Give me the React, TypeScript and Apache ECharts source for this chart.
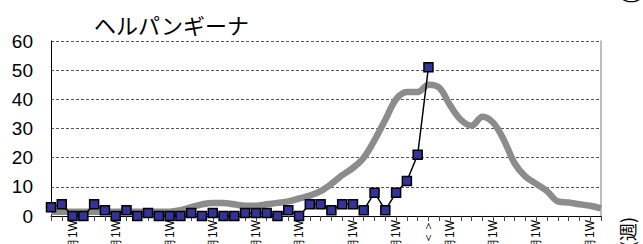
import React, { useEffect, useRef } from "react";
import * as echarts from "echarts";

// Week categories (1..52)
const weeks: string[] = Array.from({ length: 52 }, (_, i) => String(i + 1));

// Current year reports (weeks 1..36)
const currentYear: number[] = [
  3, 4, 0, 0, 4, 2, 0, 2, 0, 1, 0, 0, 0, 1, 0, 1, 0, 0, 1, 1, 1, 0, 2, 0, 4, 4,
  2, 4, 4, 2, 8, 2, 8, 12, 21, 51,
];

// Reference curve (gray, all 52 weeks)
const referenceCurve: number[] = [
  1.5, 1.5, 1.5, 1.5, 1.5, 1.5, 1.5, 1.5, 1.5, 1.5, 1.5, 1.5, 2, 3, 4, 4.5, 4.5,
  4, 3.5, 3.5, 4, 4.5, 5, 6, 7, 8.5, 11, 14, 16.5, 20, 26, 33, 40, 42.5, 42.5,
  45, 44, 38, 33, 31, 34, 32, 26, 18, 13.5, 11, 8.5, 5, 4.6, 4, 3.5, 2.6,
];

// X tick labels (category index -> text)
const labelIndices: number[] = [2, 6, 11, 15, 19, 23, 28, 32, 35, 37, 41, 45, 50];
const labelTexts: string[] = [
  "1月1W", "2月1W", "3月1W", "4月1W", "5月1W", "6月1W", "7月1W", "8月1W",
  "＜＞", "9月1W", "10月1W", "11月1W", "12月1W",
];

const yTicks = { min: 0, max: 60, interval: 10 };
const titleText = "ヘルパンギーナ";

export default function App() {
  const ref = useRef<HTMLDivElement>(null);

  useEffect(() => {
    if (!ref.current) return;
    const chart = echarts.init(ref.current, undefined, { renderer: "svg" });
    const labelMap: Record<number, string> = {};
    labelIndices.forEach((idx, k) => (labelMap[idx] = labelTexts[k]));
    const latin = "Liberation Sans, Arial, sans-serif";

    chart.setOption({
      animation: false,
      backgroundColor: "#fff",
      grid: {
        left: 51,
        right: 42,
        top: 41,
        bottom: 28,
        containLabel: false,
        outerBoundsMode: "none",
      },
      graphic: [
        {
          type: "text",
          x: 94,
          y: 13,
          style: {
            text: titleText,
            fontSize: 22,
            fontFamily: "Noto Sans CJK JP",
            fill: "#000",
            textVerticalAlign: "top",
          },
        },
        {
          type: "text",
          x: 627,
          y: 217,
          rotation: Math.PI / 2,
          style: {
            text: "(週)",
            fontSize: 18,
            fontFamily: "Noto Sans CJK JP",
            fill: "#000",
            align: "right",
            verticalAlign: "middle",
          },
        },
        {
          type: "text",
          x: 629,
          y: 4,
          rotation: Math.PI / 2,
          style: {
            text: "(人)",
            fontSize: 18,
            fontFamily: "Noto Sans CJK JP",
            fill: "#000",
            align: "left",
            verticalAlign: "middle",
          },
        },
      ],
      xAxis: {
        type: "category",
        data: weeks,
        boundaryGap: false,
        axisLine: { show: true, lineStyle: { color: "#000", width: 1 } },
        axisTick: {
          show: true,
          interval: 0,
          length: 5,
          lineStyle: { color: "#444" },
        },
        axisLabel: {
          interval: 0,
          rotate: 90,
          margin: 4,
          fontSize: 12,
          color: "#000",
          fontFamily: latin,
          formatter: (_v: string, i: number) => labelMap[i] || "",
        },
        splitLine: { show: false },
      },
      yAxis: [
        {
          type: "value",
          min: yTicks.min,
          max: yTicks.max,
          interval: yTicks.interval,
          axisLine: { show: true, lineStyle: { color: "#000", width: 1 } },
          axisTick: { show: false },
          axisLabel: {
            fontSize: 19,
            color: "#000",
            margin: 18,
            fontFamily: latin,
          },
          splitLine: {
            show: true,
            lineStyle: { color: "#555", type: [3, 2], width: 1 },
          },
        },
        {
          type: "value",
          position: "right",
          min: yTicks.min,
          max: yTicks.max,
          interval: yTicks.interval,
          axisLine: { show: true, lineStyle: { color: "#a8a8a8", width: 1.5 } },
          axisTick: { show: false },
          axisLabel: { show: false },
          splitLine: { show: false },
        },
      ],
      series: [
        {
          type: "line",
          data: referenceCurve,
          smooth: 0.35,
          symbol: "none",
          lineStyle: { color: "#8c8c8c", width: 6.5 },
          z: 2,
        },
        {
          type: "line",
          data: currentYear,
          symbol: "rect",
          symbolSize: 9,
          itemStyle: { color: "#333399", borderColor: "#000", borderWidth: 1.5 },
          lineStyle: { color: "#000", width: 1.5 },
          z: 3,
        },
      ],
    });
    return () => chart.dispose();
  }, []);

  return (
    <div
      ref={ref}
      style={{ position: "fixed", left: 0, top: 0, width: 643, height: 244 }}
    />
  );
}
